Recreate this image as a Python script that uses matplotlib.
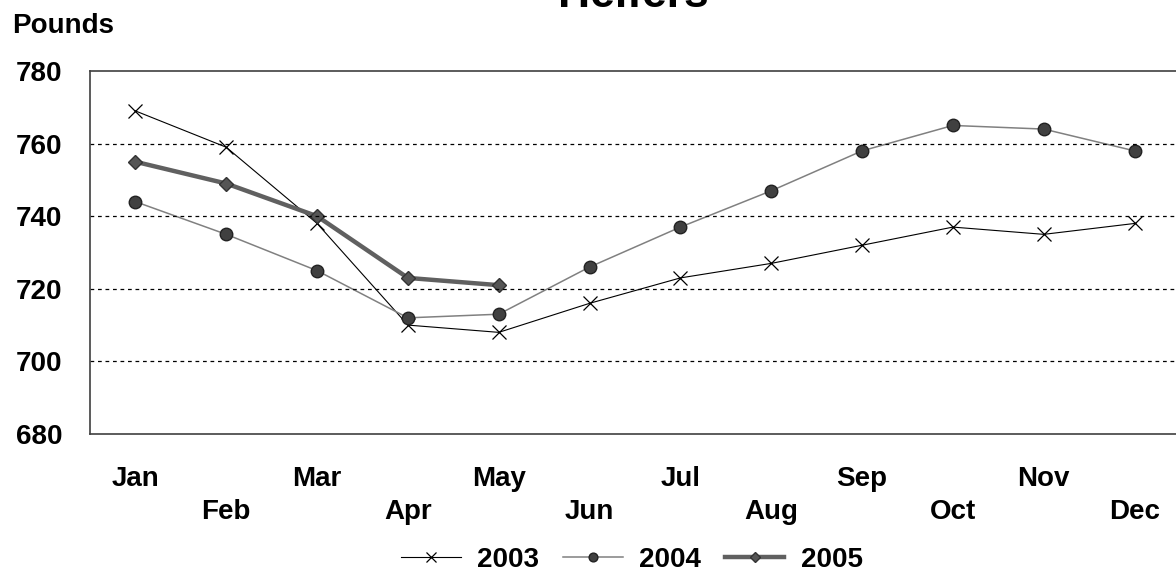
import matplotlib
matplotlib.use('Agg')
import matplotlib.pyplot as plt

months = ['Jan', 'Feb', 'Mar', 'Apr', 'May', 'Jun',
          'Jul', 'Aug', 'Sep', 'Oct', 'Nov', 'Dec']
heifers_2003 = [769, 759, 738, 710, 708, 716, 723, 727, 732, 737, 735, 738]
heifers_2004 = [744, 735, 725, 712, 713, 726, 737, 747, 758, 765, 764, 758]
heifers_2005 = [755, 749, 740, 723, 721]
y_ticks = [680, 700, 720, 740, 760, 780]

plt.rcParams['font.family'] = ['Liberation Sans', 'DejaVu Sans']
plt.rcParams['font.weight'] = 'bold'

W, H = 1176, 583
fig = plt.figure(figsize=(W / 100, H / 100), dpi=100)
# axes runs a little past the right edge of the picture, like the original
ax = fig.add_axes([90 / W, (H - 434) / H, 1090 / W, 363 / H])

x = list(range(len(months)))
ax.plot(x, heifers_2003, color='black', linewidth=0.8, marker='x',
        markersize=10, markeredgewidth=0.9, label='2003')
ax.plot(x, heifers_2004, color='#808080', linewidth=1.1, marker='o',
        markersize=9, markerfacecolor='#404040', markeredgecolor='#222222',
        label='2004')
ax.plot(x[:len(heifers_2005)], heifers_2005, color='#606060', linewidth=3.2,
        marker='D', markersize=7, markerfacecolor='#555555',
        markeredgecolor='#333333', label='2005')

ax.set_xlim(-0.5, 11.5)
ax.set_ylim(680, 780)
ax.set_yticks(y_ticks)
ax.set_yticklabels([str(v) for v in y_ticks], fontsize=20, fontweight='bold')
ax.set_xticks(x)
# every other month goes on a second line
ax.set_xticklabels([m if i % 2 == 0 else '\n' + m for i, m in enumerate(months)],
                   fontsize=20, fontweight='bold')
for lbl in ax.get_xticklabels():
    lbl.set_linespacing(1.35)
ax.tick_params(axis='both', length=0)
ax.tick_params(axis='y', pad=20)
ax.tick_params(axis='x', pad=23)

for v in y_ticks[1:-1]:
    ax.axhline(v, color='black', linewidth=0.9, linestyle=(0, (3, 3)))

for side in ['top', 'bottom', 'left']:
    ax.spines[side].set_color('#404040')
    ax.spines[side].set_linewidth(1.2)
ax.spines['right'].set_visible(False)

fig.text(12 / W, 1 - 33 / H, 'Pounds', fontsize=20, fontweight='bold',
         ha='left', va='baseline')
fig.text(633 / W, 1 - 7 / H, 'Heifers', fontsize=32, fontweight='bold',
         ha='center', va='baseline')

fig.legend(loc='center', bbox_to_anchor=(632 / W, 1 - 560 / H), ncol=3,
           frameon=False, handlelength=2.15, handletextpad=0.6,
           columnspacing=0.85, markerscale=0.7, prop={'weight': 'bold', 'size': 20})

fig.savefig('out.png', dpi=100)
